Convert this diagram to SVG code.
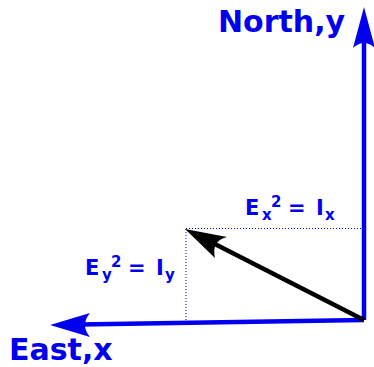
<svg xmlns="http://www.w3.org/2000/svg" width="374" height="367" viewBox="0 0 374 367">
<style>
.lbl{font-family:"DejaVu Sans",sans-serif;font-weight:bold;fill:#0000ee}
.big{font-size:30px}
.mid{font-size:21px}
.sm{font-size:15px}
.dot{stroke:#0000ee;stroke-width:1;stroke-dasharray:1,2;fill:none}
</style>
<rect width="374" height="367" fill="#fff"/>
<g id="connectors">
<path class="dot" d="M186,228.5 H362"/>
<path class="dot" d="M186,229 V322"/>
<line x1="364" y1="320" x2="364" y2="40" stroke="#0000ee" stroke-width="4.5"/>
<path d="M364,7 L375,48 Q364,38 353,48 Z" fill="#0000ee"/>
<line x1="364" y1="320" x2="80" y2="324.5" stroke="#0000ee" stroke-width="4.5"/>
<path d="M50,325 L90,313 Q80,325 90,337 Z" fill="#0000ee"/>
<line x1="364" y1="320" x2="205" y2="239" stroke="#000" stroke-width="4.5"/>
<path d="M185,229 L227,237 Q211,241 215,258 Z" fill="#000"/>
</g>
<g id="north"><text class="lbl big" x="218" y="32">North,y</text></g>
<g id="east"><text class="lbl big" x="9" y="360">East,x</text></g>
<g id="ex">
<text class="lbl mid" x="245" y="215">E</text>
<text class="lbl sm" x="262" y="220">x</text>
<text class="lbl sm" x="271" y="207">2</text>
<text class="lbl mid" x="288" y="215">=</text>
<text class="lbl mid" x="316" y="215">I</text>
<text class="lbl sm" x="325" y="220">x</text>
</g>
<g id="ey">
<text class="lbl mid" x="85" y="275">E</text>
<text class="lbl sm" x="102" y="280">y</text>
<text class="lbl sm" x="111" y="267">2</text>
<text class="lbl mid" x="128" y="275">=</text>
<text class="lbl mid" x="156" y="275">I</text>
<text class="lbl sm" x="165" y="280">y</text>
</g>
</svg>
